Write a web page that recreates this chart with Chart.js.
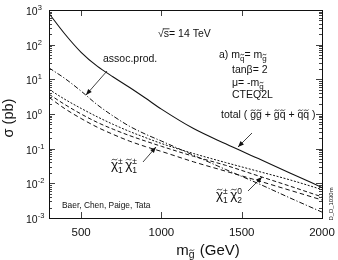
<!DOCTYPE html>
<html><head><meta charset="utf-8">
<script src="https://cdn.jsdelivr.net/npm/chart.js@4.4.1/dist/chart.umd.min.js"></script>
<style>html,body{margin:0;padding:0;background:#fff}#wrap{width:338px;height:260px;position:relative}</style>
</head><body><div id="wrap"><canvas id="c"></canvas></div>
<script>
// gluino mass (GeV)
const masses = [300,400,500,600,700,800,900,1000,1200,1400,1600,1800,2000];
// cross sections (pb)
const totalXS   = [794,200,60.3,24.0,11.7,5.89,2.88,1.38,0.380,0.138,0.0525,0.0200,0.00759];
const assocXS   = [21.4,10.5,4.57,1.86,0.871,0.447,0.263,0.166,0.0646,0.0251,0.0100,0.00380,0.00148];
const dottedXS  = [5.13,2.63,1.45,0.832,0.501,0.316,0.209,0.141,0.0724,0.0398,0.0224,0.0126,0.00661];
const c1c1XS    = [3.72,1.86,1.00,0.575,0.363,0.240,0.166,0.117,0.0603,0.0331,0.0166,0.00832,0.00407];
const c1n2XS    = [3.02,1.41,0.741,0.417,0.257,0.166,0.115,0.0832,0.0417,0.0224,0.0120,0.00631,0.00331];
// axis ticks
const xTicks = [500,1000,1500,2000];
const xTickLabels = ['500','1000','1500','2000'];
const yDecades = [1e-3,1e-2,1e-1,1,10,100,1000];
const yExponents = ['-3','-2','-1','0','1','2','3'];

const FONT = '"Liberation Sans", Arial, Helvetica, sans-serif';
const INK = '#111';

function pts(arr){ return masses.map((m,i)=>({x:m,y:arr[i]})); }

function segW(ctx,p){ ctx.font = p.s+'px '+FONT; return ctx.measureText(p.t).width; }
function rich(ctx,x,y,parts,align){
  let total=0;
  parts.forEach(p=>{ if(!p.noAdv) total += segW(ctx,p) + (p.gap||0); });
  if(align==='center') x -= total/2;
  parts.forEach(p=>{
    ctx.font = p.s+'px '+FONT;
    const w = ctx.measureText(p.t).width;
    const yy = y + (p.dy||0);
    ctx.fillText(p.t, x, yy);
    if(p.tilde){
      const cx = x + w/2, ty = yy - p.s*0.55 - 2.0;
      const tw = Math.max(w*0.8, 3.6);
      ctx.beginPath(); ctx.moveTo(cx-tw/2, ty+0.7);
      ctx.bezierCurveTo(cx-tw/6, ty-1.9, cx+tw/6, ty+1.9, cx+tw/2, ty-0.7);
      ctx.lineWidth=0.8; ctx.stroke();
    }
    if(p.over){
      ctx.beginPath(); ctx.moveTo(x-1, yy - p.s*0.78); ctx.lineTo(x+w+0.5, yy - p.s*0.78);
      ctx.lineWidth=0.8; ctx.stroke();
    }
    if(!p.noAdv) x += w + (p.gap||0);
  });
}
function arrow(ctx,x1,y1,x2,y2){
  ctx.beginPath(); ctx.moveTo(x1,y1); ctx.lineTo(x2,y2); ctx.lineWidth=0.8; ctx.stroke();
  const a = Math.atan2(y2-y1,x2-x1), L=6, H=2.4;
  ctx.beginPath(); ctx.moveTo(x2,y2);
  ctx.lineTo(x2-L*Math.cos(a)+H*Math.sin(a), y2-L*Math.sin(a)-H*Math.cos(a));
  ctx.lineTo(x2-L*Math.cos(a)-H*Math.sin(a), y2-L*Math.sin(a)+H*Math.cos(a));
  ctx.closePath(); ctx.fill();
}

const decor = {
  id:'decor',
  afterDatasetsDraw(chart){
    const ctx = chart.ctx, a = chart.chartArea, xs = chart.scales.x, ys = chart.scales.y;
    ctx.save();
    ctx.strokeStyle = INK; ctx.fillStyle = INK;
    // frame
    ctx.lineWidth = 1;
    ctx.strokeRect(Math.round(a.left)+0.5, Math.round(a.top)+0.5, Math.round(a.right-a.left), Math.round(a.bottom-a.top));
    // x ticks (inward, bottom and top)
    ctx.beginPath();
    xTicks.forEach(v=>{
      const px = Math.round(xs.getPixelForValue(v))+0.5;
      ctx.moveTo(px, a.bottom); ctx.lineTo(px, a.bottom-6);
      ctx.moveTo(px, a.top); ctx.lineTo(px, a.top+6);
    });
    // y ticks (inward, left and right)
    yDecades.forEach((d,i)=>{
      const py = Math.round(ys.getPixelForValue(d))+0.5;
      ctx.moveTo(a.left, py); ctx.lineTo(a.left+6, py);
      ctx.moveTo(a.right, py); ctx.lineTo(a.right-6, py);
      if(i<yDecades.length-1){
        for(let k=2;k<=9;k++){
          const q = Math.round(ys.getPixelForValue(d*k))+0.5;
          ctx.moveTo(a.left, q); ctx.lineTo(a.left+3, q);
          ctx.moveTo(a.right, q); ctx.lineTo(a.right-3, q);
        }
      }
    });
    ctx.lineWidth = 0.8; ctx.stroke();
    // tick labels
    ctx.textBaseline = 'alphabetic';
    xTicks.forEach((v,i)=>{
      rich(ctx, xs.getPixelForValue(v), 236, [{t:xTickLabels[i], s:11.5}], 'center');
    });
    yDecades.forEach((d,i)=>{
      const py = ys.getPixelForValue(d);
      rich(ctx, 26, py+5, [{t:'10', s:10.5},{t:yExponents[i], s:7.5, dy:-5}]);
    });
    // axis titles
    rich(ctx, 208, 255, [{t:'m', s:15},{t:'g', s:10.5, dy:3, tilde:true, gap:1},{t:' (GeV)', s:15}], 'center');
    ctx.save(); ctx.translate(13,118); ctx.rotate(-Math.PI/2);
    rich(ctx, 0, 0, [{t:'σ (pb)', s:14.5}], 'center'); ctx.restore();
    // annotations
    rich(ctx, 158, 37, [{t:'√', s:10.5},{t:'s', s:10.5, over:true},{t:'= 14 TeV', s:10.5}]);
    rich(ctx, 219, 58, [{t:'a) m', s:10.5},{t:'q', s:8, dy:3, tilde:true},{t:'= m', s:10.5},{t:'g', s:8, dy:3, tilde:true}]);
    rich(ctx, 232, 73, [{t:'tanβ= 2', s:10.5}]);
    rich(ctx, 232, 86, [{t:'μ= -m', s:10.5},{t:'g', s:8, dy:3, tilde:true}]);
    rich(ctx, 232, 98, [{t:'CTEQ2L', s:10.5}]);
    rich(ctx, 221, 118, [{t:'total ( ', s:10.5},{t:'g', s:10.5, tilde:true},{t:'g', s:10.5, tilde:true},{t:' + ', s:10.5},
      {t:'g', s:10.5, tilde:true},{t:'q', s:10.5, tilde:true},{t:' + ', s:10.5},{t:'q', s:10.5, tilde:true},{t:'q', s:10.5, tilde:true},{t:' )', s:10.5}]);
    rich(ctx, 103, 62, [{t:'assoc.prod.', s:10.5}]);
    rich(ctx, 111, 169, [{t:'χ', s:13.5, tilde:true},{t:'1', s:8.5, dy:3.5, noAdv:true},{t:'±', s:8.5, dy:-5.5, gap:2.5},
      {t:'χ', s:13.5, tilde:true},{t:'1', s:8.5, dy:3.5, noAdv:true},{t:'±', s:8.5, dy:-5.5}]);
    rich(ctx, 216, 199, [{t:'χ', s:13.5, tilde:true},{t:'1', s:8.5, dy:3.5, noAdv:true},{t:'±', s:8.5, dy:-5.5, gap:2.5},
      {t:'χ', s:13.5, tilde:true},{t:'2', s:8.5, dy:3.5, noAdv:true},{t:'0', s:8.5, dy:-5.5}]);
    rich(ctx, 62, 208, [{t:'Baer, Chen, Paige, Tata', s:8.4}]);
    ctx.save(); ctx.translate(333,204); ctx.rotate(-Math.PI/2);
    rich(ctx, 0, 0, [{t:'D_D_1030m', s:5.9}], 'center'); ctx.restore();
    // arrows
    arrow(ctx, 107, 71, 86, 95);
    arrow(ctx, 252, 133, 238, 147);
    arrow(ctx, 143, 162, 156, 147);
    arrow(ctx, 248, 191, 262, 177);
    ctx.restore();
  }
};

const ds = (label, arr, dash, w) => ({label, data: pts(arr), borderColor: INK, borderWidth: w||1,
  borderDash: dash, pointRadius: 0, fill:false, cubicInterpolationMode:'monotone'});

new Chart(document.getElementById('c'), {
  type:'line',
  data:{ datasets:[
    ds('total', totalXS, [], 1.1),
    ds('assoc.prod.', assocXS, [5,2,1.2,2]),
    ds('dotted', dottedXS, [2,1.6]),
    ds('chi1chi1', c1c1XS, [4,2.5]),
    ds('chi1chi2', c1n2XS, [4.5,3])
  ]},
  options:{
    responsive:true, maintainAspectRatio:false, animation:false,
    layout:{padding:{left:49, right:16, top:10, bottom:42}},
    plugins:{legend:{display:false}, tooltip:{enabled:false}},
    scales:{
      x:{type:'linear', min:300, max:2000, display:false},
      y:{type:'logarithmic', min:1e-3, max:1e3, display:false}
    }
  },
  plugins:[decor]
});
</script></body></html>
